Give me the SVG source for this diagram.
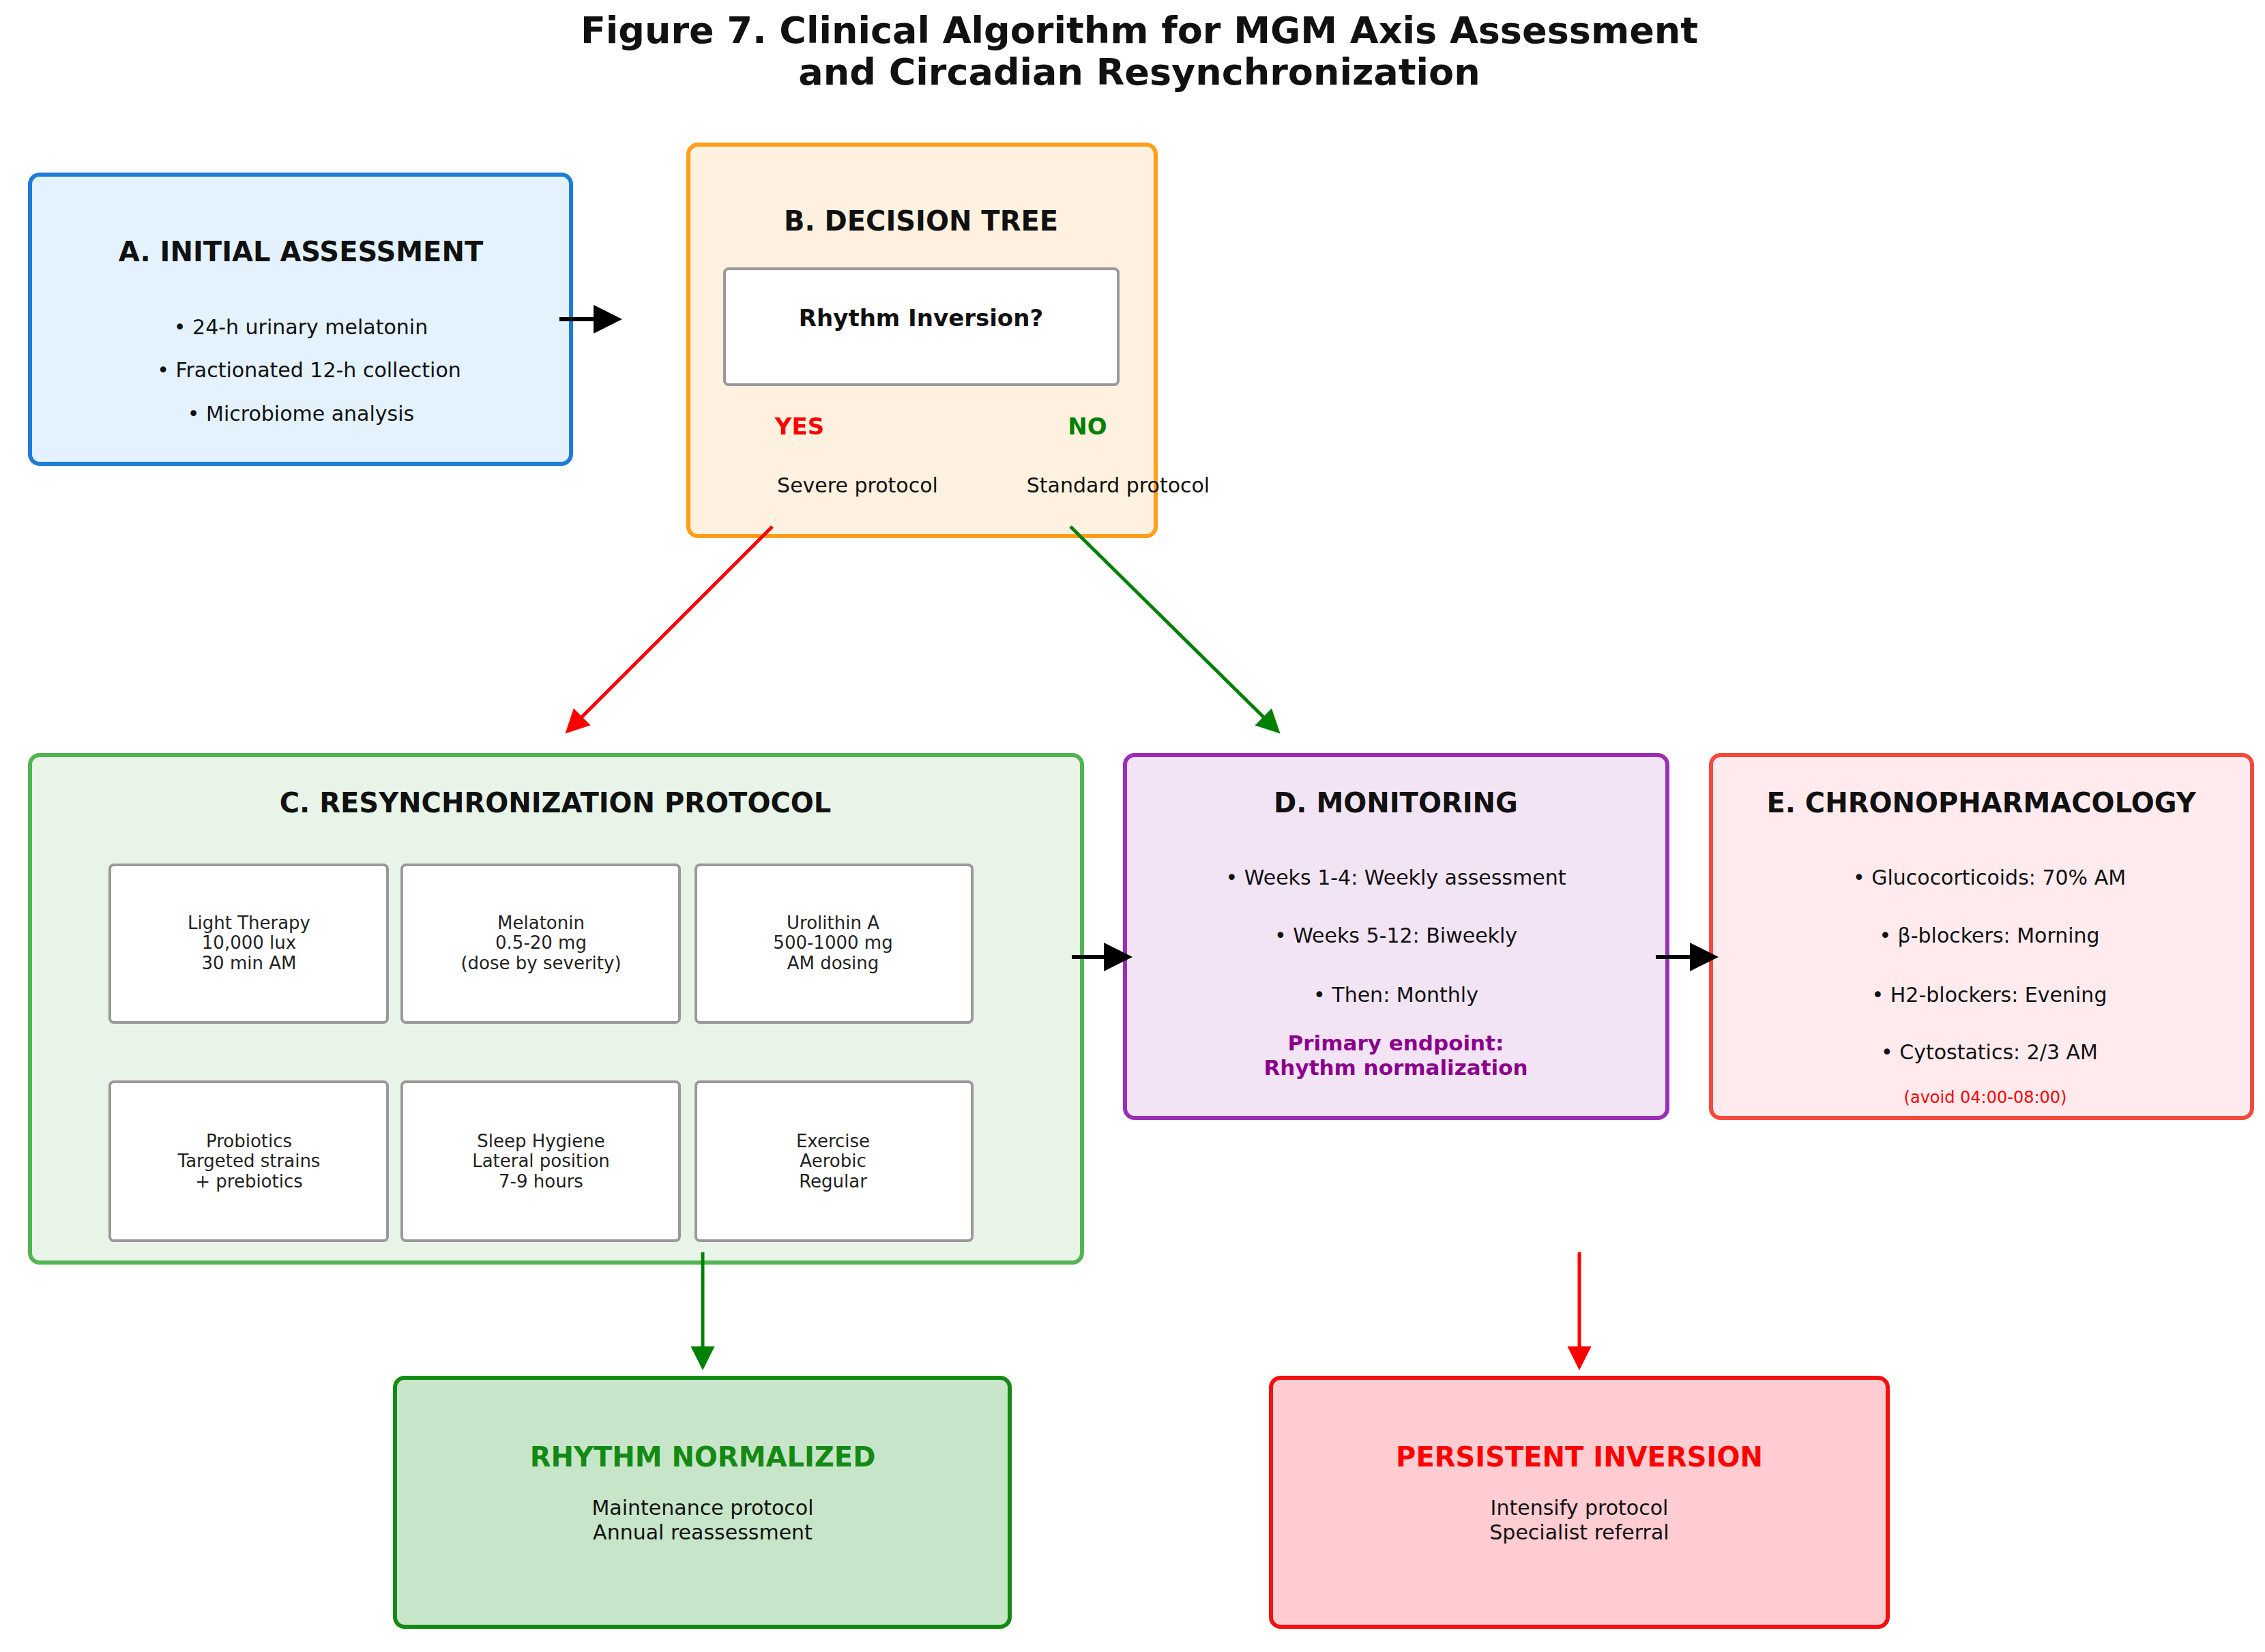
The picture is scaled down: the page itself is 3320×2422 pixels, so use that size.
<svg xmlns="http://www.w3.org/2000/svg" width="3320" height="2422" viewBox="0 0 3320 2422">
<defs>
<style>
text{font-family:"DejaVu Sans","Liberation Sans",sans-serif;text-anchor:middle;fill:#111}
.t{font-weight:bold;font-size:40px}
.b{font-size:30px}
.s{font-size:26px;fill:#222}
.sub{fill:#fff;stroke:#999;stroke-width:4}
</style>
<marker id="ak" markerWidth="8" markerHeight="8" refX="6" refY="4" orient="auto" markerUnits="strokeWidth"><path d="M0,0.5 L7,4 L0,7.5 Z" fill="#000"/></marker>
<marker id="ar" markerWidth="8" markerHeight="8" refX="6" refY="4" orient="auto" markerUnits="strokeWidth"><path d="M0,0.5 L7,4 L0,7.5 Z" fill="#f00"/></marker>
<marker id="ag" markerWidth="8" markerHeight="8" refX="6" refY="4" orient="auto" markerUnits="strokeWidth"><path d="M0,0.5 L7,4 L0,7.5 Z" fill="#008000"/></marker>
</defs>
<rect width="3320" height="2422" fill="#fff"/>
<text x="1670" y="63" style="font-weight:bold;font-size:54px">Figure 7. Clinical Algorithm for MGM Axis Assessment</text>
<text x="1670" y="124" style="font-weight:bold;font-size:54px">and Circadian Resynchronization</text>
<g id="A">
<rect x="44" y="256" width="793" height="424" rx="14" fill="#E3F2FD" stroke="#1E7BD6" stroke-width="6"/>
<text class="t" x="441" y="383">A. INITIAL ASSESSMENT</text>
<text class="b" x="441" y="490">• 24-h urinary melatonin</text>
<text class="b" x="453" y="553">• Fractionated 12-h collection</text>
<text class="b" x="441" y="617">• Microbiome analysis</text>
</g>
<g id="B">
<rect x="1009" y="212" width="685" height="574" rx="14" fill="#FFF1DF" stroke="#FF9E1A" stroke-width="6"/>
<text class="t" x="1350" y="338">B. DECISION TREE</text>
<rect x="1062" y="394" width="577" height="170" rx="6" fill="#fff" stroke="#999" stroke-width="4"/>
<text x="1350" y="478" style="font-weight:bold;font-size:34px">Rhythm Inversion?</text>
<text x="1172" y="637" style="font-weight:bold;font-size:34px;fill:#f00">YES</text>
<text x="1594" y="637" style="font-weight:bold;font-size:34px;fill:#008000">NO</text>
<text class="b" x="1257" y="722">Severe protocol</text>
<text class="b" x="1639" y="722">Standard protocol</text>
</g>
<g id="C">
<rect x="44" y="1107" width="1542" height="744" rx="14" fill="#E7F4E7" stroke="#52B452" stroke-width="6"/>
<text class="t" x="814" y="1191">C. RESYNCHRONIZATION PROTOCOL</text>
<rect class="sub" x="161" y="1268" width="407" height="231" rx="6"/>
<rect class="sub" x="589" y="1268" width="407" height="231" rx="6"/>
<rect class="sub" x="1020" y="1268" width="405" height="231" rx="6"/>
<rect class="sub" x="161" y="1586" width="407" height="233" rx="6"/>
<rect class="sub" x="589" y="1586" width="407" height="233" rx="6"/>
<rect class="sub" x="1020" y="1586" width="405" height="233" rx="6"/>
<text class="s" x="365" y="1362">Light Therapy</text><text class="s" x="365" y="1391">10,000 lux</text><text class="s" x="365" y="1421">30 min AM</text>
<text class="s" x="793" y="1362">Melatonin</text><text class="s" x="793" y="1391">0.5-20 mg</text><text class="s" x="793" y="1421">(dose by severity)</text>
<text class="s" x="1221" y="1362">Urolithin A</text><text class="s" x="1221" y="1391">500-1000 mg</text><text class="s" x="1221" y="1421">AM dosing</text>
<text class="s" x="365" y="1682">Probiotics</text><text class="s" x="365" y="1711">Targeted strains</text><text class="s" x="365" y="1741">+ prebiotics</text>
<text class="s" x="793" y="1682">Sleep Hygiene</text><text class="s" x="793" y="1711">Lateral position</text><text class="s" x="793" y="1741">7-9 hours</text>
<text class="s" x="1221" y="1682">Exercise</text><text class="s" x="1221" y="1711">Aerobic</text><text class="s" x="1221" y="1741">Regular</text>
</g>
<g id="D">
<rect x="1649" y="1107" width="795" height="532" rx="14" fill="#F3E4F5" stroke="#9C2DB5" stroke-width="6"/>
<text class="t" x="2046" y="1191">D. MONITORING</text>
<text class="b" x="2046" y="1297">• Weeks 1-4: Weekly assessment</text>
<text class="b" x="2046" y="1382">• Weeks 5-12: Biweekly</text>
<text class="b" x="2046" y="1469">• Then: Monthly</text>
<text x="2046" y="1540" style="font-weight:bold;font-size:31px;fill:#8B008B">Primary endpoint:</text>
<text x="2046" y="1576" style="font-weight:bold;font-size:31px;fill:#8B008B">Rhythm normalization</text>
</g>
<g id="E">
<rect x="2508" y="1107" width="793" height="532" rx="14" fill="#FFEBEE" stroke="#F44A3C" stroke-width="6"/>
<text class="t" x="2904" y="1191">E. CHRONOPHARMACOLOGY</text>
<text class="b" x="2916" y="1297">• Glucocorticoids: 70% AM</text>
<text class="b" x="2916" y="1382">• β-blockers: Morning</text>
<text class="b" x="2916" y="1469">• H2-blockers: Evening</text>
<text class="b" x="2916" y="1553">• Cytostatics: 2/3 AM</text>
<text x="2910" y="1617" style="font-size:24px;fill:#f00">(avoid 04:00-08:00)</text>
</g>
<g id="N">
<rect x="579" y="2020" width="901" height="365" rx="14" fill="#C7E5C8" stroke="#138A13" stroke-width="6"/>
<text x="1030" y="2150" style="font-weight:bold;font-size:40px;fill:#138A13">RHYTHM NORMALIZED</text>
<text class="b" x="1030" y="2221">Maintenance protocol</text>
<text class="b" x="1030" y="2257">Annual reassessment</text>
</g>
<g id="P">
<rect x="1863" y="2020" width="904" height="365" rx="14" fill="#FFCCD1" stroke="#F21010" stroke-width="6"/>
<text x="2315" y="2150" style="font-weight:bold;font-size:40px;fill:#f00">PERSISTENT INVERSION</text>
<text class="b" x="2315" y="2221">Intensify protocol</text>
<text class="b" x="2315" y="2257">Specialist referral</text>
</g>
<g id="connectors" fill="none" stroke-width="6">
<line x1="820" y1="468" x2="906" y2="468" stroke="#000" marker-end="url(#ak)"/>
<line x1="1132" y1="772" x2="832" y2="1072" stroke="#f00" stroke-width="5" marker-end="url(#ar)"/>
<line x1="1569" y1="772" x2="1873" y2="1072" stroke="#008000" stroke-width="5" marker-end="url(#ag)"/>
<line x1="1571" y1="1403" x2="1654" y2="1403" stroke="#000" marker-end="url(#ak)"/>
<line x1="2427" y1="1403" x2="2513" y2="1403" stroke="#000" marker-end="url(#ak)"/>
<line x1="1030" y1="1836" x2="1030" y2="2004" stroke="#008000" stroke-width="5" marker-end="url(#ag)"/>
<line x1="2315" y1="1836" x2="2315" y2="2004" stroke="#f00" stroke-width="5" marker-end="url(#ar)"/>
</g>
</svg>
